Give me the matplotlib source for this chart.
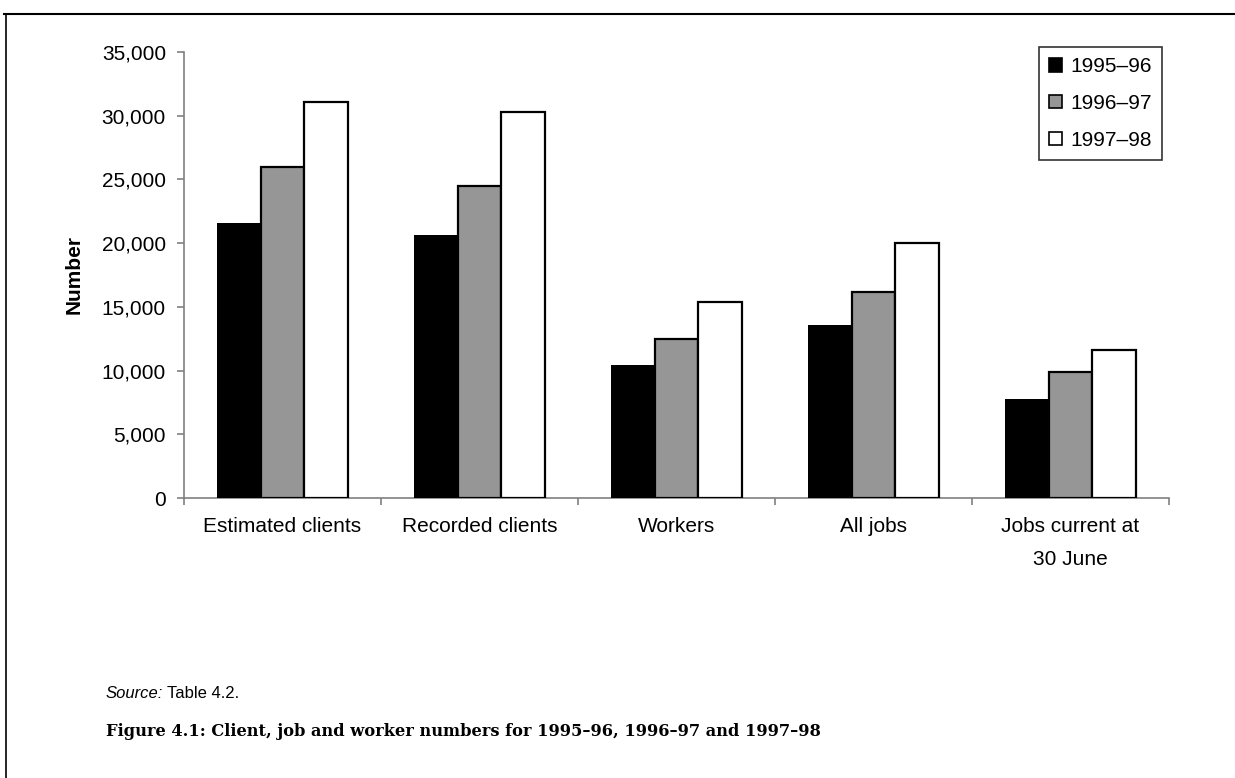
import matplotlib
matplotlib.use("Agg")
import matplotlib.pyplot as plt
import numpy as np
from matplotlib.lines import Line2D
from matplotlib.patches import Patch

categories = ["Estimated clients", "Recorded clients", "Workers", "All jobs", "Jobs current at\n30 June"]
series_names = ["1995\u201396", "1996\u201397", "1997\u201398"]
v_1995_96 = [21600, 20600, 10400, 13600, 7750]
v_1996_97 = [26000, 24500, 12450, 16200, 9900]
v_1997_98 = [31100, 30300, 15400, 20000, 11650]
y_ticks = [0, 5000, 10000, 15000, 20000, 25000, 30000, 35000]

plt.rcParams['font.family'] = ['Liberation Sans', 'DejaVu Sans']

fig = plt.figure(figsize=(12.35, 7.78), dpi=100)
W, H = 1235, 778
ax = fig.add_axes([184 / W, 1 - 498 / H, (1169 - 184) / W, (498 - 52) / H])

colors = ["#000000", "#969696", "#ffffff"]
values = [v_1995_96, v_1996_97, v_1997_98]
x = np.arange(len(categories))
bw = 1 / 4.5
for i, (vals, c) in enumerate(zip(values, colors)):
    ax.bar(x + (i - 1) * bw, vals, width=bw, color=c, edgecolor="black",
           linewidth=1.6 if i > 0 else 0, label=series_names[i], zorder=3)

ax.set_xlim(-0.5, len(categories) - 0.5)
ax.set_ylim(0, 35000)
ax.set_yticks(y_ticks)
ax.set_yticklabels([f"{v:,}" for v in y_ticks], fontsize=15)
ax.set_xticks(x)
ax.set_xticklabels(categories, fontsize=15, linespacing=1.9)
ax.tick_params(axis="x", length=0, pad=14)
ax.set_xticks(np.arange(-0.5, len(categories)), minor=True)
ax.tick_params(axis="x", which="minor", length=5, width=1.2, color="#808080", direction="out")
ax.tick_params(axis="y", length=5, width=1.2, color="#808080", direction="out", pad=8)

for s in ["top", "right"]:
    ax.spines[s].set_visible(False)
for s in ["left", "bottom"]:
    ax.spines[s].set_color("#808080")
    ax.spines[s].set_linewidth(1.2)

ax.set_ylabel("Number", fontsize=15, fontweight="bold")
ax.yaxis.set_label_coords((84 - 184) / (1169 - 184), 0.5)

handles = [Patch(facecolor=c, edgecolor="black", linewidth=1.2) for c in colors]
leg = fig.legend(handles, series_names, loc="upper left",
                 bbox_to_anchor=(1039 / W, 1 - 47 / H), fontsize=15,
                 frameon=True, fancybox=False, edgecolor="black",
                 handlelength=0.6, handleheight=0.6, handletextpad=0.4,
                 labelspacing=0.85, borderpad=0.5, borderaxespad=0)
leg.get_frame().set_linewidth(1.2)

# page frame
fig.add_artist(Line2D([4 / W, 1], [1 - 14 / H, 1 - 14 / H], color="black", linewidth=1.5))
fig.add_artist(Line2D([6 / W, 6 / W], [1 - 14 / H, 0], color="black", linewidth=1.2))

src_y = 1 - 698 / H
t_src = fig.text(106 / W, src_y, "Source:", fontsize=12, va="baseline", style="italic")
fig.canvas.draw()
bb = t_src.get_window_extent()
fig.text((bb.x1 + 4) / W, src_y, "Table 4.2.", fontsize=12, va="baseline")

fig.text(106 / W, 1 - 736 / H,
         "Figure 4.1: Client, job and worker numbers for 1995\u201396, 1996\u201397 and 1997\u201398",
         fontsize=11.7, fontweight="bold", family="DejaVu Serif", va="baseline")

fig.savefig("out.png", dpi=100)
